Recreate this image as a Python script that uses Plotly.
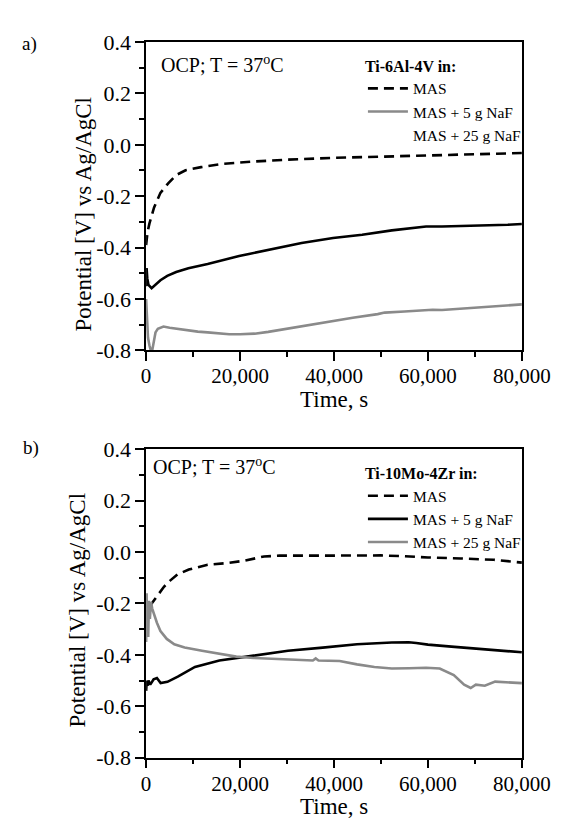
import plotly.graph_objects as go

# ---------------- data ----------------
# Panel a) Ti-6Al-4V
a_mas_t = [0, 300, 700, 1700, 3050, 4700, 6400, 8400, 11700, 16400, 23100, 29800, 39800, 50000, 60000, 70000, 80000]
a_mas_v = [-0.39, -0.34, -0.307, -0.244, -0.187, -0.150, -0.118, -0.099, -0.087, -0.074, -0.065, -0.058, -0.051, -0.046, -0.042, -0.037, -0.032]

a_5g_t = [0, 100, 250, 500, 1170, 2000, 3050, 4500, 6400, 9000, 13100, 19800, 26400, 33100, 39800, 46000, 52300, 56000, 59600, 63000, 67000, 70000, 74000, 77000, 80000]
a_5g_v = [-0.55, -0.48, -0.52, -0.545, -0.558, -0.545, -0.527, -0.51, -0.495, -0.48, -0.464, -0.433, -0.408, -0.382, -0.363, -0.35, -0.333, -0.325, -0.318, -0.318, -0.316, -0.317, -0.313, -0.311, -0.308]

a_25g_t = [0, 150, 400, 700, 1000, 1300, 1600, 2000, 2500, 3700, 5000, 6400, 9000, 11000, 13100, 15000, 17700, 20000, 23100, 26000, 29800, 33000, 36500, 39800, 44000, 49300, 50800, 55000, 59600, 61000, 63000, 67000, 70000, 74000, 77000, 80000]
a_25g_v = [-0.60, -0.66, -0.75, -0.78, -0.80, -0.80, -0.77, -0.73, -0.716, -0.707, -0.712, -0.716, -0.722, -0.727, -0.73, -0.733, -0.737, -0.737, -0.735, -0.728, -0.716, -0.706, -0.697, -0.685, -0.673, -0.659, -0.653, -0.649, -0.644, -0.642, -0.643, -0.638, -0.636, -0.630, -0.625, -0.621]

# Panel b) Ti-10Mo-4Zr
b_mas_t = [800, 1600, 2400, 3800, 5050, 6700, 9100, 13100, 17100, 21100, 25100, 28400, 35000, 40000, 45000, 50000, 55000, 60000, 67000, 74000, 80000]
b_mas_v = [-0.21, -0.19, -0.168, -0.135, -0.112, -0.087, -0.068, -0.049, -0.043, -0.033, -0.017, -0.014, -0.014, -0.014, -0.012, -0.013, -0.016, -0.021, -0.025, -0.030, -0.041]

b_5g_t = [0, 150, 300, 500, 880, 1600, 2300, 3100, 4550, 6750, 10400, 15600, 22900, 30200, 37600, 44900, 52300, 55900, 57500, 60000, 65000, 70000, 75000, 80000]
b_5g_v = [-0.54, -0.50, -0.52, -0.50, -0.516, -0.495, -0.49, -0.51, -0.505, -0.485, -0.447, -0.422, -0.403, -0.384, -0.372, -0.359, -0.352, -0.351, -0.354, -0.36, -0.368, -0.376, -0.383, -0.39]

b_25g_t = [0, 100, 200, 300, 450, 600, 800, 1040, 1300, 1700, 2300, 3050, 4400, 6000, 8200, 11900, 15600, 19200, 22900, 30200, 35500, 36100, 36700, 41200, 44900, 48600, 52300, 56000, 59600, 62500, 65500, 67700, 69100, 70200, 72100, 74300, 77900, 80000]
b_25g_v = [-0.35, -0.16, -0.30, -0.20, -0.33, -0.19, -0.26, -0.194, -0.22, -0.244, -0.275, -0.307, -0.338, -0.359, -0.371, -0.384, -0.397, -0.407, -0.412, -0.419, -0.422, -0.414, -0.422, -0.424, -0.437, -0.447, -0.453, -0.452, -0.45, -0.453, -0.479, -0.516, -0.529, -0.516, -0.52, -0.504, -0.508, -0.51]

# tick labels
x_tickvals = [0, 20000, 40000, 60000, 80000]
x_ticktext = ["0", "20,000", "40,000", "60,000", "80,000"]
x_minorvals = [10000, 30000, 50000, 70000]
y_tickvals = [-0.8, -0.6, -0.4, -0.2, 0.0, 0.2, 0.4]
y_ticktext = ["-0.8", "-0.6", "-0.4", "-0.2", "0.0", "0.2", "0.4"]
y_minorvals = [-0.7, -0.5, -0.3, -0.1, 0.1, 0.3]

legend_a_title = "Ti-6Al-4V in:"
legend_b_title = "Ti-10Mo-4Zr in:"
names = ["MAS", "MAS + 5 g NaF", "MAS + 25 g NaF"]

# ---------------- layout helpers ----------------
W, H = 573, 825
def PX(px):
    return px / W
def PY(py):
    return 1 - py / H

FONT = "Liberation Serif"
BLACK = "#000000"
GRAY = "#8a8a8a"
LW = 2.6
DASH = "10px,6px"

fig = go.Figure()

# panel a traces
fig.add_trace(go.Scatter(x=a_mas_t, y=a_mas_v, mode="lines", name=names[0], legend="legend",
                         line=dict(color=BLACK, width=LW, dash=DASH), xaxis="x", yaxis="y"))
fig.add_trace(go.Scatter(x=a_5g_t, y=a_5g_v, mode="lines", name=names[1], showlegend=False,
                         line=dict(color=BLACK, width=LW), xaxis="x", yaxis="y"))
fig.add_trace(go.Scatter(x=a_25g_t, y=a_25g_v, mode="lines", name=names[2], showlegend=False,
                         line=dict(color=GRAY, width=LW), xaxis="x", yaxis="y"))
# legend entries as shown in the reference (gray sample on 2nd row, none on 3rd)
fig.add_trace(go.Scatter(x=[None], y=[None], mode="lines", name=names[1], legend="legend",
                         line=dict(color=GRAY, width=LW), xaxis="x", yaxis="y"))
fig.add_trace(go.Scatter(x=[None], y=[None], mode="lines", name=names[2], legend="legend",
                         line=dict(color="rgba(0,0,0,0)", width=LW), xaxis="x", yaxis="y"))

# panel b traces
fig.add_trace(go.Scatter(x=b_mas_t, y=b_mas_v, mode="lines", name=names[0], legend="legend2",
                         line=dict(color=BLACK, width=LW, dash=DASH), xaxis="x2", yaxis="y2"))
fig.add_trace(go.Scatter(x=b_5g_t, y=b_5g_v, mode="lines", name=names[1], legend="legend2",
                         line=dict(color=BLACK, width=LW), xaxis="x2", yaxis="y2"))
fig.add_trace(go.Scatter(x=b_25g_t, y=b_25g_v, mode="lines", name=names[2], legend="legend2",
                         line=dict(color=GRAY, width=LW), xaxis="x2", yaxis="y2"))

xdom = [PX(141.5), PX(541)]
ydom_a = [PY(340.7), PY(22.7)]
ydom_b = [PY(760.7), PY(442.7)]

xtickfont = dict(family=FONT, size=21, color=BLACK)
ytickfont = dict(family=FONT, size=22, color=BLACK)

def main_x(domain_anchor):
    return dict(domain=xdom, range=[0, 80000], anchor=domain_anchor, showgrid=False, zeroline=False,
                showline=True, linecolor=BLACK, linewidth=1.5, mirror=True,
                ticks="outside", ticklen=9, tickwidth=1.5, tickcolor=BLACK,
                tickmode="array", tickvals=x_tickvals, ticktext=x_ticktext, tickfont=xtickfont,
                ticklabelstandoff=-3,
                minor=dict(tickmode="array", tickvals=x_minorvals, ticks="outside", ticklen=5,
                           tickwidth=1.5, tickcolor=BLACK, showgrid=False))

def main_y(domain, anchor):
    return dict(domain=domain, range=[-0.8, 0.4], anchor=anchor, showgrid=False, zeroline=False,
                showline=True, linecolor=BLACK, linewidth=1.5, mirror=True,
                ticks="outside", ticklen=9, tickwidth=1.5, tickcolor=BLACK,
                tickmode="array", tickvals=y_tickvals, ticktext=y_ticktext, tickfont=ytickfont,
                minor=dict(tickmode="array", tickvals=y_minorvals, ticks="outside", ticklen=5,
                           tickwidth=1.5, tickcolor=BLACK, showgrid=False))

def top_x(over, anchor):
    return dict(overlaying=over, anchor=anchor, side="top", range=[0, 80000], showgrid=False,
                zeroline=False, showline=False, showticklabels=False,
                ticks="inside", ticklen=4, tickwidth=1.3, tickcolor=BLACK, tickmode="linear",
                tick0=0, dtick=10000)

def right_y(over, anchor):
    return dict(overlaying=over, anchor=anchor, side="right", range=[-0.8, 0.4], showgrid=False,
                zeroline=False, showline=False, showticklabels=False,
                ticks="inside", ticklen=4, tickwidth=1.3, tickcolor=BLACK, tickmode="linear",
                tick0=-0.8, dtick=0.1)

legend_font = dict(family=FONT, size=15.5, color=BLACK)

def leg(x_px, y_px, title):
    return dict(x=PX(x_px), y=PY(y_px), xanchor="left", yanchor="top",
                bgcolor="rgba(0,0,0,0)", borderwidth=0, font=legend_font,
                title=dict(text="<b>" + title + "</b>", font=dict(family=FONT, size=16, color=BLACK)),
                itemwidth=40, tracegroupgap=0, itemclick=False)

ann = []
def text(xp, yp, s, size, xanchor="center", angle=0):
    ann.append(dict(x=PX(xp), y=PY(yp), xref="paper", yref="paper", text=s, showarrow=False,
                    xanchor=xanchor, yanchor="middle", textangle=angle,
                    font=dict(family=FONT, size=size, color=BLACK)))

text(18, 25, "a)", 19)
text(19, 441, "b)", 19)
text(155, 45, "OCP; T = 37<sup>o</sup>C", 20, xanchor="left")
text(147, 460, "OCP; T = 37<sup>o</sup>C", 20, xanchor="left")
text(75, 201, "Potential [V] vs Ag/AgCl", 23, angle=-90)
text(69, 609, "Potential [V] vs Ag/AgCl", 23, angle=-90)
text(341, 391, "Time, s", 23)
text(341, 811, "Time, s", 23)

fig.update_layout(
    width=W, height=H, margin=dict(l=0, r=0, t=0, b=0),
    paper_bgcolor="white", plot_bgcolor="white",
    font=dict(family=FONT, color=BLACK),
    xaxis=main_x("y"), yaxis=main_y(ydom_a, "x"),
    xaxis2=main_x("y2"), yaxis2=main_y(ydom_b, "x2"),
    xaxis3=top_x("x", "y"), yaxis3=right_y("y", "x"),
    xaxis4=top_x("x2", "y2"), yaxis4=right_y("y2", "x2"),
    legend=leg(372, 32, legend_a_title),
    legend2=leg(372, 452, legend_b_title),
    annotations=ann,
    showlegend=True,
)

fig.write_html("out.html")
